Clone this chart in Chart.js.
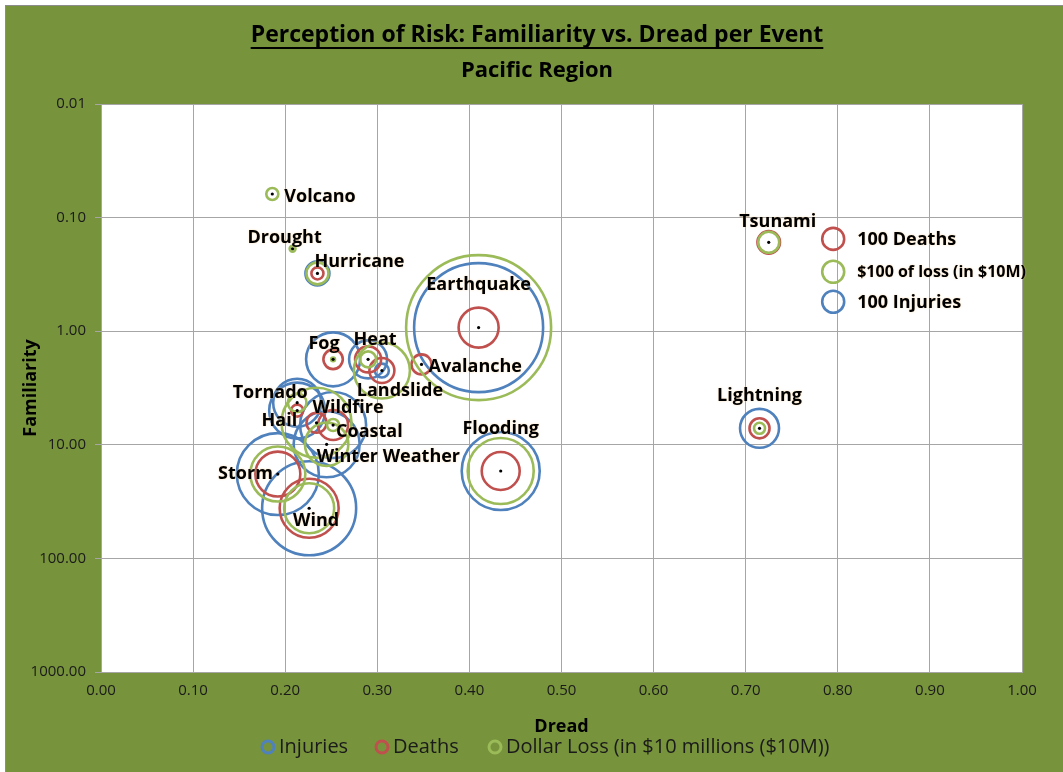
<!DOCTYPE html>
<html>
<head>
<meta charset="utf-8">
<title>Perception of Risk</title>
<script src="https://cdn.jsdelivr.net/npm/chart.js@4.4.1/dist/chart.umd.min.js"></script>
<style>
    html, body { margin: 0; padding: 0; background: #fff; }
    #frame { position: absolute; left: 5px; top: 5px; width: 1058px; height: 767px; background: #77933C; border-left: 1px solid #8c8c8c; border-top: 1px solid #8c8c8c; }
    #riskChart { position: absolute; left: 0; top: 0; }
</style>
</head>
<body>
<div id="frame"></div>
<canvas id="riskChart" width="1063" height="772"></canvas>
<script>
// Events and their positions (dread on x, familiarity on log y)
const events = ["Volcano", "Drought", "Hurricane", "Tsunami", "Earthquake", "Avalanche", "Fog", "Heat", "Landslide",
    "Tornado", "Hail", "Wildfire", "Coastal", "Winter Weather", "Storm", "Wind", "Flooding", "Lightning"];
const dread = [0.186, 0.208, 0.235, 0.725, 0.410, 0.348, 0.252, 0.290, 0.305,
    0.213, 0.213, 0.234, 0.252, 0.245, 0.192, 0.226, 0.434, 0.715];
const familiarity = [0.062, 0.188, 0.31, 0.165, 0.93, 1.96, 1.77, 1.77, 2.22,
    4.26, 5.0, 6.4, 6.7, 9.9, 18.1, 36.2, 17.0, 7.16];

// Bubble series
const injuries = [0, 0, 119, 0, 3438, 0, 602, 298, 40, 476, 648, 0, 900, 900, 1389, 1826, 1257, 314];
const deaths = [0, 0, 30, 105, 331, 83, 78, 140, 129, 0, 30, 83, 186, 0, 418, 719, 298, 83];
const dollarLoss = [30, 7, 100, 91, 4344, 0, 3, 53, 648, 71, 0, 1012, 30, 389, 625, 517, 900, 25];

// Size key inside the plot
const keyLabels = ["100 Deaths", "$100 of loss (in $10M)", "100 Injuries"];
const keyDread = [0.795, 0.795, 0.795];
const keyFamiliarity = [0.154, 0.30, 0.55];
const keyValues = [100, 100, 100];

const seriesNames = ["Injuries", "Deaths", "Dollar Loss (in $10 millions ($10M))"];
const yTicks = [0.01, 0.1, 1, 10, 100, 1000];

const BLUE = "#4F81BD", RED = "#C0504D", GREEN = "#9BBB59";
const FONT = "'Open Sans', 'DejaVu Sans', sans-serif";

// radius of a bubble whose value is 100
const R100 = 11;
function radius(v) {
    return v > 0 ? R100 * Math.sqrt(v / 100) : 0;
}

function bubbles(values) {
    return values.map((v, i) => ({ x: dread[i], y: familiarity[i], r: radius(v) }));
}

// where each event name sits relative to its dot
const labelPlace = {
    "Volcano": ["left", 12, 3], "Drought": ["center", -8, -11], "Hurricane": ["left", -3, -12],
    "Tsunami": ["center", 9, -20], "Earthquake": ["center", 0, -43], "Avalanche": ["left", 7, 2],
    "Fog": ["center", -9, -15], "Heat": ["center", 7, -19], "Landslide": ["center", 18, 20],
    "Tornado": ["center", -27, -10], "Hail": ["right", 0, 10], "Wildfire": ["left", -4, -15],
    "Coastal": ["left", 3, 7], "Winter Weather": ["left", -10, 13], "Storm": ["right", -5, 0],
    "Wind": ["center", 7, 13], "Flooding": ["center", 0, -42], "Lightning": ["center", 0, -32],
};

const plotBackground = {
    id: "plotBackground",
    beforeDraw(chart) {
        const { ctx, chartArea: a } = chart;
        ctx.save();
        ctx.fillStyle = "#fff";
        ctx.fillRect(a.left, a.top, a.right - a.left, a.bottom - a.top);
        ctx.restore();
    },
};

const titles = {
    id: "titles",
    afterDraw(chart) {
        const ctx = chart.ctx;
        ctx.save();
        ctx.fillStyle = "#000";
        ctx.textAlign = "center";
        ctx.textBaseline = "alphabetic";
        ctx.font = "bold 23px " + FONT;
        const t = "Perception of Risk: Familiarity vs. Dread per Event";
        ctx.fillText(t, 537, 42);
        const w = ctx.measureText(t).width;
        ctx.fillRect(537 - w / 2, 47, w, 2);
        ctx.font = "bold 22px " + FONT;
        ctx.fillText("Pacific Region", 537, 77);
        ctx.restore();
    },
};

// series legend under the x axis title
const bottomLegend = {
    id: "bottomLegend",
    afterDraw(chart) {
        const ctx = chart.ctx;
        const colors = [BLUE, RED, GREEN];
        const ringX = [268, 382, 495];
        ctx.save();
        ctx.font = "20px " + FONT;
        ctx.textBaseline = "middle";
        ctx.textAlign = "left";
        seriesNames.forEach((name, i) => {
            ctx.beginPath();
            ctx.arc(ringX[i], 747, 6, 0, Math.PI * 2);
            ctx.lineWidth = 3;
            ctx.strokeStyle = colors[i];
            ctx.stroke();
            ctx.fillStyle = "#1a1a1a";
            ctx.fillText(name, ringX[i] + 11, 747);
        });
        ctx.restore();
    },
};

const eventLabels = {
    id: "eventLabels",
    afterDatasetsDraw(chart) {
        const ctx = chart.ctx;
        const dots = chart.getDatasetMeta(4).data;
        ctx.save();
        ctx.fillStyle = "#000";
        ctx.textBaseline = "middle";
        ctx.shadowColor = "rgba(255, 210, 150, 0.8)";
        ctx.shadowBlur = 2;
        ctx.font = "bold 18px " + FONT;
        events.forEach((name, i) => {
            const [align, dx, dy] = labelPlace[name];
            ctx.textAlign = align;
            ctx.fillText(name, dots[i].x + dx, dots[i].y + dy);
        });
        // size key labels
        ctx.textAlign = "left";
        const keys = chart.getDatasetMeta(3).data;
        keyLabels.forEach((txt, i) => {
            ctx.font = (i === 1 ? "bold 16px " : "bold 18px ") + FONT;
            ctx.fillText(txt, keys[i].x + 24, keys[i].y + 1);
        });
        ctx.restore();
    },
};

const ctx = document.getElementById("riskChart").getContext("2d");
new Chart(ctx, {
    type: "bubble",
    data: {
        datasets: [
            { label: seriesNames[0], data: bubbles(injuries), borderColor: BLUE, order: 3 },
            { label: seriesNames[1], data: bubbles(deaths), borderColor: RED, order: 2 },
            { label: seriesNames[2], data: bubbles(dollarLoss), borderColor: GREEN, order: 1 },
            {
                label: "key",
                data: keyValues.map((v, i) => ({ x: keyDread[i], y: keyFamiliarity[i], r: radius(v) })),
                borderColor: [RED, GREEN, BLUE],
                order: 1,
            },
            {
                label: "dots",
                data: events.map((e, i) => ({ x: dread[i], y: familiarity[i], r: 1.6 })),
                backgroundColor: "#000",
                borderWidth: 0,
                order: 0,
            },
        ],
    },
    options: {
        responsive: false,
        animation: false,
        events: [],
        elements: {
            point: { backgroundColor: "rgba(0,0,0,0)", borderWidth: 2.6, pointStyle: "circle" },
        },
        layout: { autoPadding: false, padding: { left: 10, right: 41, top: 104, bottom: 0 } },
        plugins: {
            tooltip: { enabled: false },
            legend: { display: false },
        },
        scales: {
            x: {
                type: "linear",
                min: 0,
                max: 1,
                ticks: {
                    stepSize: 0.1,
                    callback: (v) => Number(v).toFixed(2),
                    color: "#1a1a1a",
                    font: { family: FONT, size: 15 },
                    padding: 10,
                },
                grid: { color: "#a6a6a6", drawTicks: false },
                border: { color: "#a6a6a6" },
                title: {
                    display: true,
                    text: "Dread",
                    color: "#000",
                    font: { family: FONT, size: 18, weight: "bold" },
                    padding: { top: 0, bottom: 34 },
                },
                afterFit: (s) => { s.height = 100; },
            },
            y: {
                type: "logarithmic",
                reverse: true,
                min: 0.01,
                max: 1000,
                afterBuildTicks: (s) => { s.ticks = yTicks.map((v) => ({ value: v })); },
                ticks: {
                    callback: (v) => Number(v).toFixed(2),
                    color: "#1a1a1a",
                    font: { family: FONT, size: 15 },
                    padding: 9,
                },
                grid: { color: "#a6a6a6", tickLength: 6 },
                border: { color: "#a6a6a6" },
                title: {
                    display: true,
                    text: "Familiarity",
                    color: "#000",
                    font: { family: FONT, size: 18, weight: "bold" },
                    padding: { top: 10, bottom: 0 },
                },
                afterFit: (s) => { s.width = 91; },
            },
        },
    },
    plugins: [plotBackground, titles, eventLabels, bottomLegend],
});
</script>
</body>
</html>
